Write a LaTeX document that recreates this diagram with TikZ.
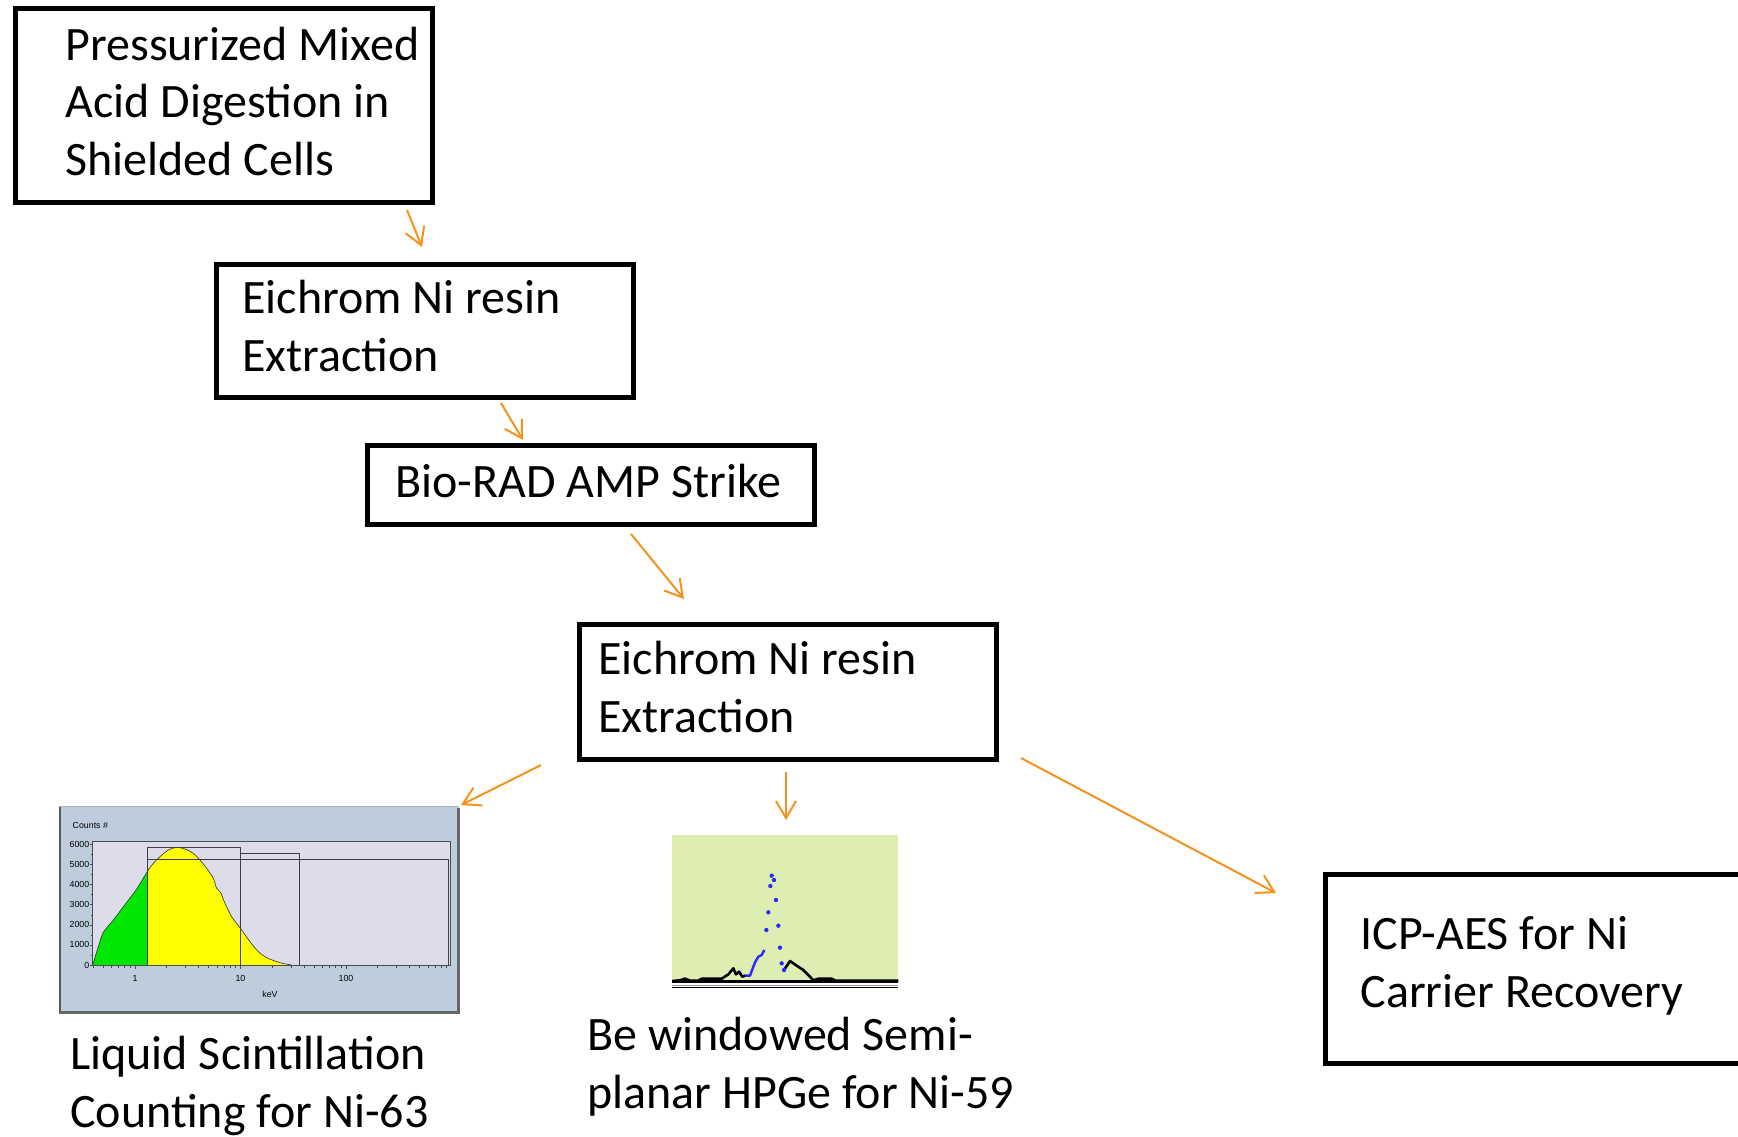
\documentclass[tikz,border=0pt]{standalone}
\usepackage{fontspec}
\setmainfont{Carlito}
\newfontfamily\plotfont{Liberation Sans}
\usetikzlibrary{arrows.meta}
\definecolor{flow}{RGB}{245,146,30}
\definecolor{lscpanel}{RGB}{189,205,220}
\definecolor{lscplot}{RGB}{220,220,235}
\definecolor{lscgreen}{RGB}{0,230,0}
\definecolor{lscyellow}{RGB}{255,255,0}
\definecolor{gepanel}{RGB}{222,237,178}
\definecolor{gepeak}{RGB}{40,40,255}
\tikzset{
	stage/.style={draw, line width=2.3pt, inner sep=0pt, anchor=north west},
	stagetext/.style={anchor=base west, align=left, inner sep=0pt, font=\fontsize{24}{28.75}\selectfont},
	flowarrow/.style={draw=flow, line width=1pt, -{Straight Barb[length=8.5pt,width=10pt]}},
	plotlabel/.style={inner sep=0pt, font=\plotfont\fontsize{4.4}{5}\selectfont},
}

\begin{document}
\begin{tikzpicture}[x=0.5pt, y=-0.5pt]
	\useasboundingbox (0,0) rectangle (1738,1136);
	\clip (0,0) rectangle (1738,1136);
	% process steps
	\node[stage, minimum width=208.5pt, minimum height=97pt] (digest) at (13,6) {};
	\node[stagetext] (digest-t) at (65,175) {Pressurized Mixed\\Acid Digestion in\\Shielded Cells};
	\node[stage, minimum width=208.5pt, minimum height=66.5pt] (resin1) at (214,262) {};
	\node[stagetext] (resin1-t) at (242,371) {Eichrom Ni resin\\Extraction};
	\node[stage, minimum width=223.5pt, minimum height=39.5pt] (strike) at (365,443) {};
	\node[stagetext] (strike-t) at (395,497) {Bio-RAD AMP Strike};
	\node[stage, minimum width=208.5pt, minimum height=67.5pt] (resin2) at (577,622) {};
	\node[stagetext] (resin2-t) at (598,732) {Eichrom Ni resin\\Extraction};
	\node[stage, minimum width=218.5pt, minimum height=94.5pt] (icp) at (1323,872) {};
	\node[stagetext] (icp-t) at (1360,1007) {ICP-AES for Ni\\Carrier Recovery};
	\node[stagetext] (lsc-t) at (70,1127) {Liquid Scintillation\\Counting for Ni-63};
	\node[stagetext] (hpge-t) at (587,1108) {Be windowed Semi-\\planar HPGe for Ni-59};
	%
	\coordinate (a1s) at (407,210); \coordinate (a1e) at (422,247);
	\coordinate (a2s) at (501,403); \coordinate (a2e) at (523,440);
	\coordinate (a3s) at (631,534); \coordinate (a3e) at (684,599);
	\coordinate (a4s) at (541,765); \coordinate (a4e) at (461,805);
	\coordinate (a5s) at (786,772); \coordinate (a5e) at (786,820);
	\coordinate (a6s) at (1021,758); \coordinate (a6e) at (1276,893);
	\foreach \n in {1,...,6}
		\draw[flowarrow] (a\n s) -- (a\n e);
	% LSC spectrum
	\begin{scope}[shift={(50,795)}, scale=1/3]
		\fill[lscpanel] (28,35) rectangle (1228,655);
		\draw[gray!60] (28,35) -- (1228,35);
		\draw[black!65, line width=1pt] (31,35) -- (31,655);
		\draw[black!60, line width=1.3pt] (28,652) -- (1226,652) -- (1226,38);
		\filldraw[fill=lscplot, draw=black!70, line width=0.4pt] (128,140) rectangle (1202,512);
		\fill[lscgreen] (128,512) -- plot[smooth] coordinates {(128,510) (145,455) (160,412) (190,375) (230,322) (260,282) (293,228)} -- (293,512) -- cycle;
		\fill[lscyellow] (293,512) -- plot[smooth] coordinates {(293,228) (310,205) (330,185) (355,165) (380,157) (405,162) (430,175) (450,195) (470,220) (490,250) (500,280) (512,292) (522,318) (545,365) (570,398) (600,440) (625,470) (650,488) (690,503) (725,510)} -- cycle;
		\draw[black!80, line width=0.3pt] plot[smooth] coordinates {(128,510) (145,455) (160,412) (190,375) (230,322) (260,282) (293,228) (310,205) (330,185) (355,165) (380,157) (405,162) (430,175) (450,195) (470,220) (490,250) (500,280) (512,292) (522,318) (545,365) (570,398) (600,440) (625,470) (650,488) (690,503) (725,510)};
		\draw[black!75, line width=0.45pt] (293,512) -- (293,157) -- (570,157) -- (570,512);
		\draw[black!75, line width=0.45pt] (570,175) -- (748,175) -- (748,512);
		\draw[black!75, line width=0.45pt] (293,193) -- (1195,193) -- (1195,512);
		\draw[black!70, line width=0.4pt] (128,512) -- (1202,512);
		\foreach \k in {0,...,6}
			\draw[black!70, line width=0.3pt] (120,{510-60.3*\k}) -- (128,{510-60.3*\k});
		\foreach \k in {0,...,5}
			\draw[black!70, line width=0.3pt] (124,{480-60.3*\k}) -- (128,{480-60.3*\k});
		\foreach \k/\lab in {0/0,1/1000,2/2000,3/3000,4/4000,5/5000,6/6000}
			\node[plotlabel, anchor=east] (ytick\k) at (119,{510-60.3*\k}) {\lab};
		\foreach \v in {0.4,0.5,0.6,0.7,0.8,0.9,2,3,4,5,6,7,8,9,20,30,40,50,60,70,80,90,200,300,400,500,600,700,800,900}
			\draw[black!70, line width=0.3pt] ({255+316.5*log10(\v)},512) -- ++(0,6);
		\foreach \v/\lab in {1/1,10/10,100/100} {
			\draw[black!70, line width=0.3pt] ({255+316.5*log10(\v)},512) -- ++(0,10);
			\node[plotlabel] (xtick\lab) at ({255+316.5*log10(\v)},550) {\lab};
		}
		\node[plotlabel, anchor=west] (counts) at (67,90) {Counts \#};
		\node[plotlabel] (kev) at (660,598) {keV};
	\end{scope}
	% HPGe peak
	\begin{scope}[shift={(665,825)}, scale=1/3]
		\fill[gepanel] (22,30) rectangle (700,470);
		\draw[black, line width=1.6pt] (22,470) -- (700,470);
		\draw[black!40, line width=0.5pt] (22,480) -- (700,480);
		\draw[black, line width=0.7pt] (22,488) -- (700,488);
		\draw[black, line width=1.3pt, line join=round] (22,468) -- (45,466) -- (60,461) -- (75,467) -- (100,467) -- (110,461) -- (170,461) -- (190,448) -- (205,430) -- (213,448) -- (222,440) -- (232,455) -- (240,452);
		\draw[black, line width=1.3pt, line join=round] (357,435) -- (375,408) -- (395,422) -- (415,435) -- (430,450) -- (445,466) -- (460,461) -- (500,461) -- (512,467) -- (700,467);
		\draw[gepeak, line width=1.2pt, line join=round] (240,452) -- (255,452) -- (262,433) -- (270,412) -- (280,395) -- (290,390) -- (298,375);
		\foreach \p in {(304,315),(310,262),(316,183),(320,152),(327,165),(333,225),(340,302),(345,368),(350,415),(357,435)}
			\fill[gepeak] \p circle (6.5);
	\end{scope}
\end{tikzpicture}
\end{document}
